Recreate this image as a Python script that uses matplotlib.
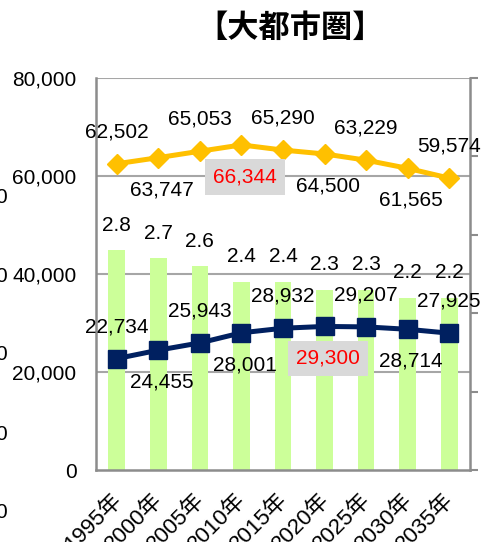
import matplotlib.pyplot as plt
from matplotlib.ticker import StrMethodFormatter
from matplotlib.transforms import blended_transform_factory, ScaledTranslation

plt.rcParams['font.family'] = ['Liberation Sans', 'Noto Sans CJK JP']

years = ['1995年', '2000年', '2005年', '2010年', '2015年', '2020年', '2025年', '2030年', '2035年']
households = [62502, 63747, 65053, 66344, 65290, 64500, 63229, 61565, 59574]
singles = [22734, 24455, 25943, 28001, 28932, 29300, 29207, 28714, 27925]
ratio = [2.8, 2.7, 2.6, 2.4, 2.4, 2.3, 2.3, 2.2, 2.2]
peak_households = 3
peak_singles = 5

ORANGE = '#FFC000'
NAVY = '#002060'
GREEN = '#CCFF99'
GRID = '#A6A6A6'
SPINE = '#8C8C8C'

fig = plt.figure(figsize=(4.85, 5.42), dpi=100)
ax_bar = fig.add_axes([96 / 485, 1 - 470 / 542, 374 / 485, 392 / 542])
ax = ax_bar.twinx()
ax_bar.yaxis.tick_right()
ax.yaxis.tick_left()

x = list(range(len(years)))

# bars on the secondary scale (0-5)
ax_bar.bar(x, ratio, width=0.4, color=GREEN, zorder=1)
ax_bar.set_ylim(0, 5)
ax_bar.set_xlim(-0.5, len(years) - 0.5)
ax_bar.set_yticks([0, 1, 2, 3, 4, 5])
ax_bar.set_yticklabels([])
ax_bar.tick_params(axis='y', direction='out', length=6, width=1.5, color=SPINE)
for i, r in enumerate(ratio):
    ax_bar.annotate('%.1f' % r, (i, r), xytext=(0, 18), textcoords='offset points',
                    ha='center', va='center', fontsize=15)

# horizontal grid of the main scale, kept under the bars
grid_tr = blended_transform_factory(ax_bar.transAxes, ax.transData)
for v in [20000, 40000, 60000, 80000]:
    ax_bar.plot([0, 1], [v, v], transform=grid_tr, color=GRID, lw=1.5, zorder=0.5)

for side in ['left', 'bottom', 'right']:
    ax_bar.spines[side].set_color(SPINE)
    ax_bar.spines[side].set_linewidth(1.8)
ax_bar.spines['top'].set_visible(False)
for s in ax.spines.values():
    s.set_visible(False)

ax_bar.set_xticks(x)
ax_bar.set_xticklabels(years, rotation=45, ha='right', rotation_mode='anchor', fontsize=16)
ax_bar.tick_params(axis='x', length=0, pad=14)
shift = ScaledTranslation(-0.06, 0, fig.dpi_scale_trans)
for lbl in ax_bar.get_xticklabels():
    lbl.set_transform(lbl.get_transform() + shift)

# lines on the main scale
ax.plot(x, households, color=ORANGE, lw=3.6, marker='D', markersize=10, zorder=3)
ax.plot(x, singles, color=NAVY, lw=3.6, marker='s', markersize=13.5, zorder=3)
ax.set_ylim(0, 80000)
ax.set_yticks([0, 20000, 40000, 60000, 80000])
ax.yaxis.set_major_formatter(StrMethodFormatter('{x:,.0f}'))
ax.tick_params(axis='y', length=0, pad=14, labelsize=15)


def label_series(values, peak):
    for i, v in enumerate(values):
        above = (i % 2 == 0)
        offset = (0, 23) if above else (2.5, -23)
        kw = {}
        color = 'black'
        if i == peak:
            color = 'red'
            kw['bbox'] = dict(boxstyle='square,pad=0.4', fc='#D9D9D9', ec='none')
        ax.annotate('{:,}'.format(v), (i, v), xytext=offset, textcoords='offset points',
                    ha='center', va='center', fontsize=15, color=color, zorder=4, **kw)


label_series(households, peak_households)
label_series(singles, peak_singles)

fig.text(290 / 485, 1 - 28 / 542, '【大都市圏】', ha='center', va='center',
         fontsize=22.5, fontweight='bold', family=['Noto Sans CJK JP'])

# edge of a neighbouring axis that runs off the left border
for yy in [197, 276, 355, 434, 513]:
    fig.text(6.5 / 485, 1 - yy / 542, '0', ha='right', va='center', fontsize=15)

fig.savefig('out.png', dpi=100)
